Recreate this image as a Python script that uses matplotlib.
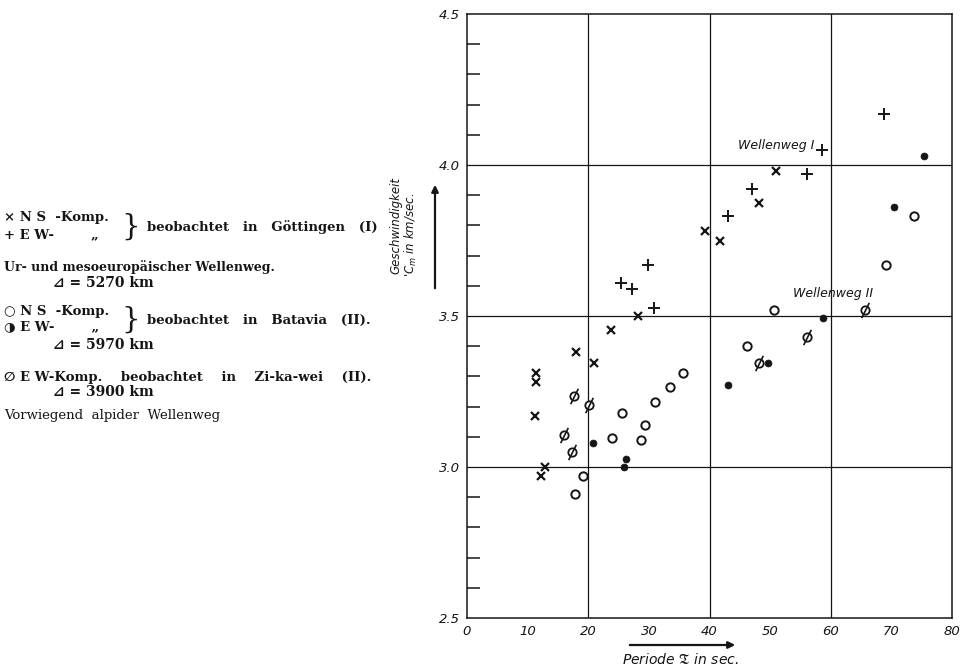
import matplotlib
matplotlib.use("Agg")
import matplotlib.pyplot as plt
from matplotlib.path import Path
from matplotlib.patches import FancyArrowPatch
from matplotlib.ticker import FixedLocator

# ---- data (Periode T in sec, Geschwindigkeit C_m in km/sec) ----
ns_goett_x = [11.4, 11.3, 11.2, 12.8, 12.2, 18.0, 21.0, 23.7, 28.2, 39.2, 41.7, 48.2, 51.0]
ns_goett_y = [3.31, 3.28, 3.17, 3.00, 2.97, 3.38, 3.345, 3.455, 3.50, 3.78, 3.75, 3.875, 3.98]

ew_goett_x = [25.4, 27.2, 29.9, 30.8, 43.0, 47.0, 56.1, 58.6, 68.8]
ew_goett_y = [3.61, 3.59, 3.67, 3.525, 3.83, 3.92, 3.97, 4.05, 4.17]

ns_batavia_x = [17.8, 19.1, 23.9, 25.5, 28.7, 29.3, 31.0, 33.5, 35.6, 46.2, 50.7, 69.1, 73.7]
ns_batavia_y = [2.91, 2.97, 3.095, 3.18, 3.09, 3.14, 3.215, 3.265, 3.31, 3.40, 3.52, 3.67, 3.83]

ew_batavia_x = [20.8, 25.9, 26.2, 43.0, 49.6, 58.7, 70.4, 75.4]
ew_batavia_y = [3.08, 3.00, 3.025, 3.27, 3.345, 3.495, 3.86, 4.03]

ew_zikawei_x = [16.0, 17.3, 17.7, 20.1, 48.2, 56.1, 65.7]
ew_zikawei_y = [3.105, 3.05, 3.235, 3.205, 3.345, 3.43, 3.52]

x_ticklabels = ["0", "10", "20", "30", "40", "50", "60", "70", "80"]
y_ticklabels = ["2.5", "3.0", "3.5", "4.0", "4.5"]

W, H = 961, 670
fig = plt.figure(figsize=(W / 100, H / 100), dpi=100)
fig.patch.set_facecolor("white")

def fx(px):
    return px / W

def fy(py):
    return 1 - py / H

ink = "#151515"
ax = fig.add_axes([fx(467), fy(618), (952 - 467) / W, (618 - 14) / H])
ax.set_xlim(0, 80)
ax.set_ylim(2.5, 4.5)

for s in ax.spines.values():
    s.set_linewidth(1.1)
    s.set_color(ink)

# grid lines
for gx in [20, 40, 60]:
    ax.axvline(gx, color=ink, lw=0.9, zorder=1)
for gy in [3.0, 3.5, 4.0]:
    ax.axhline(gy, color=ink, lw=0.9, zorder=1)

# ticks
ax.xaxis.set_major_locator(FixedLocator(range(0, 81, 10)))
ax.set_xticklabels(x_ticklabels)
ax.yaxis.set_major_locator(FixedLocator([2.5, 3.0, 3.5, 4.0, 4.5]))
ax.set_yticklabels(y_ticklabels)
ax.yaxis.set_minor_locator(FixedLocator([2.6, 2.7, 2.8, 2.9, 3.1, 3.2, 3.3, 3.4,
                                         3.6, 3.7, 3.8, 3.9, 4.1, 4.2, 4.3, 4.4]))
ax.xaxis.set_minor_locator(FixedLocator([10, 30, 50, 70]))
ax.tick_params(axis="both", which="major", length=0, pad=5, labelsize=9.5, colors=ink)
ax.tick_params(axis="y", which="minor", direction="in", length=9, width=1.1, color=ink)
ax.tick_params(axis="x", which="minor", direction="in", length=11, width=1.1, color=ink)
for lab in ax.get_xticklabels() + ax.get_yticklabels():
    lab.set_fontstyle("italic")

# markers
ax.plot(ns_goett_x, ns_goett_y, ls="none", marker="x", ms=5.5, mew=1.6, color=ink, zorder=3)
ax.plot(ew_goett_x, ew_goett_y, ls="none", marker="+", ms=8, mew=1.4, color=ink, zorder=3)
ax.plot(ns_batavia_x, ns_batavia_y, ls="none", marker="o", ms=6, mew=1.4, mfc="white",
        mec=ink, zorder=3)
ax.plot(ew_batavia_x, ew_batavia_y, ls="none", marker="o", ms=5, mew=0.5, mfc=ink,
        mec=ink, zorder=3)
ax.plot(ew_zikawei_x, ew_zikawei_y, ls="none", marker="o", ms=6, mew=1.3, mfc="white",
        mec=ink, zorder=3)
slash = Path([(-0.5, -1.0), (0.5, 1.0)], [Path.MOVETO, Path.LINETO])
ax.plot(ew_zikawei_x, ew_zikawei_y, ls="none", marker=slash, ms=11, mew=1.2, mfc="none",
        mec=ink, zorder=4)

# in-chart labels
ax.text(44.7, 4.066, "Wellenweg I", fontsize=9, style="italic", color=ink, va="center")
ax.text(53.8, 3.576, "Wellenweg II", fontsize=9, style="italic", color=ink, va="center")

# axis labels with arrows
fig.text(fx(396), fy(226), "Geschwindigkeit", rotation=90, ha="center", va="center",
         fontsize=8.5, style="italic", color=ink)
fig.text(fx(411), fy(235), "'C$_m$ in km/sec.", rotation=90, ha="center", va="center",
         fontsize=8.5, style="italic", color=ink)
fig.add_artist(FancyArrowPatch((fx(435), fy(291)), (fx(435), fy(182)),
               transform=fig.transFigure, arrowstyle="-|>", mutation_scale=10, lw=1.6,
               color=ink))
fig.text(fx(680), fy(660), r"Periode $\mathfrak{T}$ in sec.", ha="center", va="center",
         fontsize=10, style="italic", color=ink)
fig.add_artist(FancyArrowPatch((fx(627), fy(645)), (fx(738), fy(645)),
               transform=fig.transFigure, arrowstyle="-|>", mutation_scale=10, lw=1.6,
               color=ink))

# left-hand legend text block
serif = ["DejaVu Serif", "DejaVu Sans"]
fs = 9.5
def lt(px, py, s, **kw):
    fig.text(fx(px), fy(py), s, fontsize=kw.pop("fontsize", fs), family=serif,
             weight=kw.pop("weight", "bold"), va="center", ha="left", color=ink, **kw)

lt(4, 218, "\u00d7 N S  -Komp.")
lt(4, 235, "+ E W-        \u201e")
fig.text(fx(121), fy(227), "}", fontsize=21, family=serif, va="center", ha="left", color=ink)
lt(147, 227, "beobachtet   in   G\u00f6ttingen   (I)")
lt(4, 267, "Ur- und mesoeurop\u00e4ischer Wellenweg.", fontsize=9)
lt(53, 283, "\u22bf = 5270 km", fontsize=10)
lt(4, 312, "\u25cb N S  -Komp.")
lt(4, 327, "\u25d1 E W-        \u201e")
fig.text(fx(121), fy(320), "}", fontsize=21, family=serif, va="center", ha="left", color=ink)
lt(147, 320, "beobachtet   in   Batavia   (II).")
lt(53, 345, "\u22bf = 5970 km", fontsize=10)
lt(4, 377, "\u2205 E W-Komp.    beobachtet    in    Zi-ka-wei    (II).")
lt(53, 392, "\u22bf = 3900 km", fontsize=10)
lt(4, 416, "Vorwiegend  alpider  Wellenweg", weight="normal")

fig.savefig("out.png", dpi=100, facecolor="white")
